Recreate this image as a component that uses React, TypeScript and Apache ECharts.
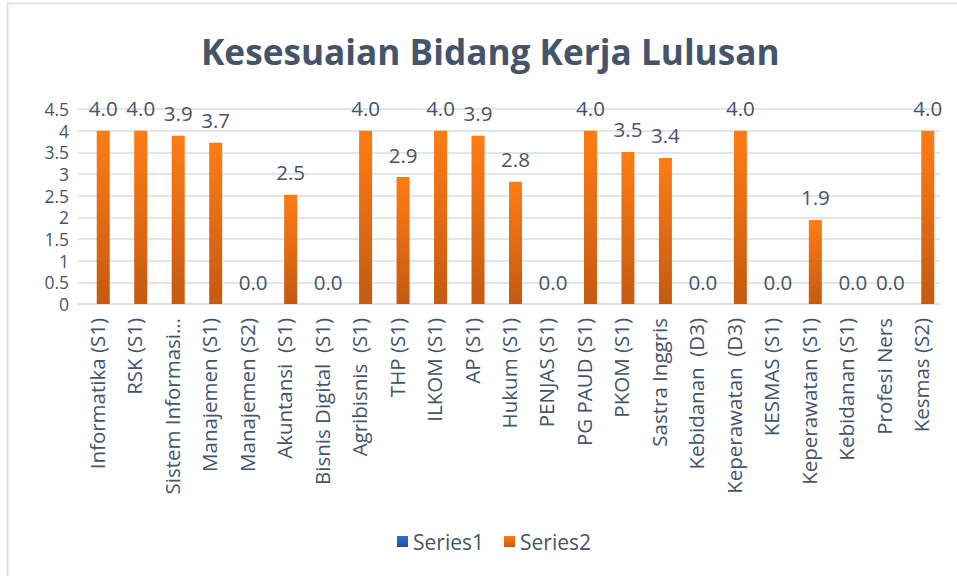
import React, { useEffect, useRef } from "react";
import * as echarts from "echarts";

const categories = [
  "Informatika (S1)",
  "RSK (S1)",
  "Sistem Informasi (S1)",
  "Manajemen (S1)",
  "Manajemen (S2)",
  "Akuntansi  (S1)",
  "Bisnis Digital  (S1)",
  "Agribisnis  (S1)",
  "THP (S1)",
  "ILKOM (S1)",
  "AP (S1)",
  "Hukum (S1)",
  "PENJAS (S1)",
  "PG PAUD (S1)",
  "PKOM (S1)",
  "Sastra Inggris",
  "Kebidanan  (D3)",
  "Keperawatan  (D3)",
  "KESMAS (S1)",
  "Keperawatan (S1)",
  "Kebidanan (S1)",
  "Profesi Ners",
  "Kesmas (S2)",
];

const series1Values: (number | null)[] = categories.map(() => null);

const series2Values = [
  4.0, 4.0, 3.88, 3.72, 0, 2.52, 0, 4.0, 2.93, 4.0, 3.88, 2.82, 0, 4.0, 3.51, 3.37, 0, 4.0, 0, 1.94, 0, 0, 4.0,
];

const yTicks = { min: 0, max: 4.5, interval: 0.5 };

const TEXT = "#44546A";
const FONT = "'Open Sans', 'Noto Sans', sans-serif";

export default function App() {
  const ref = useRef<HTMLDivElement>(null);
  useEffect(() => {
    if (!ref.current) return;
    const chart = echarts.init(ref.current, null, { renderer: "svg" });
    chart.setOption({
      animation: false,
      backgroundColor: "#ffffff",
      textStyle: { fontFamily: FONT },
      title: {
        text: "Kesesuaian Bidang Kerja Lulusan",
        left: 196,
        top: 28,
        textStyle: { fontFamily: FONT, fontSize: 35.2, fontWeight: "bold", color: TEXT },
      },
      graphic: [
        {
          type: "rect",
          shape: { x: 7.5, y: 3.5, width: 980, height: 600 },
          style: { fill: "none", stroke: "#DEE3E9", lineWidth: 2 },
          silent: true,
        },
      ],
      legend: {
        bottom: 19,
        left: 392,
        itemWidth: 11,
        itemHeight: 11,
        itemGap: 20,
        icon: "rect",
        textStyle: { fontFamily: FONT, fontSize: 21, color: TEXT },
        data: ["Series1", "Series2"],
      },
      grid: { left: 78, right: 17, top: 109, bottom: 272, containLabel: false },
      xAxis: {
        type: "category",
        data: categories,
        axisLine: { show: true, lineStyle: { color: "#D9DDE3", width: 1.5 } },
        axisTick: { show: false },
        axisLabel: {
          rotate: 90,
          interval: 0,
          margin: 14,
          fontFamily: FONT,
          fontSize: 20.5,
          lineHeight: 22,
          color: TEXT,
          formatter: (v: string) => (v.length > 20 ? v.slice(0, 16) + "…" : v),
        },
      },
      yAxis: {
        type: "value",
        min: yTicks.min,
        max: yTicks.max,
        interval: yTicks.interval,
        axisLine: { show: false },
        axisTick: { show: false },
        splitLine: { lineStyle: { color: "#D9DDE3", width: 1.5 } },
        axisLabel: {
          fontFamily: FONT,
          fontSize: 17.5,
          lineHeight: 18,
          color: TEXT,
          margin: 9,
          formatter: (v: number) => String(v),
        },
      },
      series: [
        {
          name: "Series1",
          type: "bar",
          data: series1Values,
          barWidth: 13,
          barGap: "0%",
          itemStyle: {
            color: new echarts.graphic.LinearGradient(0, 0, 0, 1, [
              { offset: 0, color: "#2F70D6" },
              { offset: 1, color: "#1F4F9E" },
            ]),
          },
        },
        {
          name: "Series2",
          type: "bar",
          data: series2Values,
          barWidth: 13,
          barGap: "0%",
          itemStyle: {
            color: new echarts.graphic.LinearGradient(0, 0, 0, 1, [
              { offset: 0, color: "#FF7C14" },
              { offset: 1, color: "#C55A11" },
            ]),
          },
          label: {
            show: true,
            position: "top",
            distance: 12,
            fontFamily: FONT,
            fontSize: 20.5,
            color: TEXT,
            formatter: (p: any) => Number(p.value).toFixed(1),
          },
        },
      ],
    });
    return () => chart.dispose();
  }, []);
  return (
    <div
      ref={ref}
      style={{ position: "fixed", left: 0, top: 0, width: 957, height: 576 }}
    />
  );
}
